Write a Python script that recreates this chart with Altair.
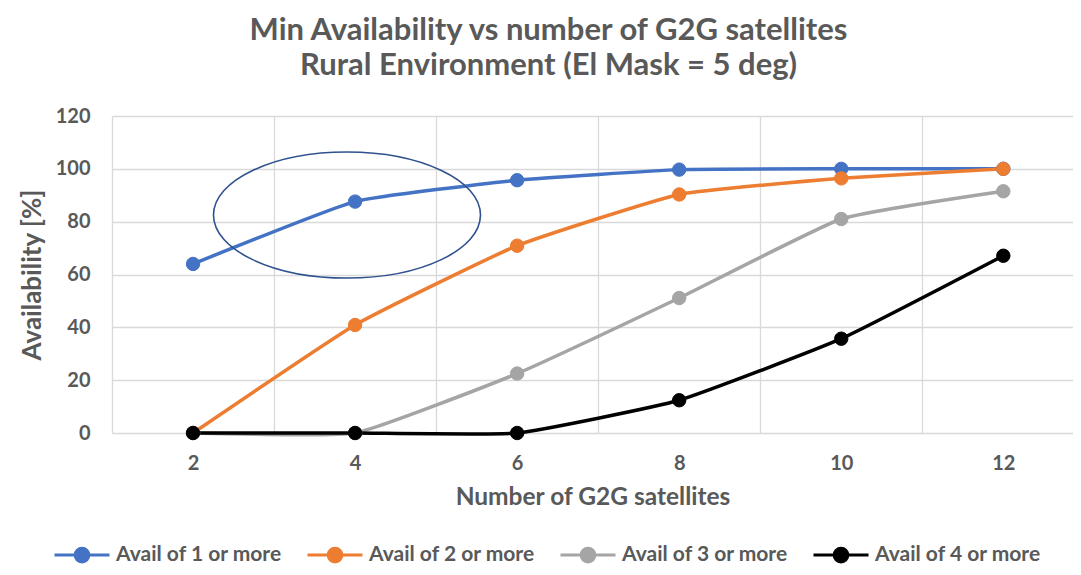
import altair as alt
import pandas as pd

satellites = [2, 4, 6, 8, 10, 12]
series_names = ["Avail of 1 or more", "Avail of 2 or more", "Avail of 3 or more", "Avail of 4 or more"]
avail_1 = [64.0, 87.6, 95.7, 99.7, 100.0, 100.0]
avail_2 = [0.0, 40.9, 70.9, 90.3, 96.4, 100.0]
avail_3 = [0.0, 0.0, 22.5, 51.1, 81.0, 91.5]
avail_4 = [0.0, 0.0, 0.0, 12.4, 35.7, 67.1]
colors = ["#4472C4", "#ED7D31", "#A5A5A5", "#000000"]

# annotation ellipse (center in data coordinates)
ellipse_x = [3.9]
ellipse_y = [82.5]

rows = []
for name, vals in zip(series_names, [avail_1, avail_2, avail_3, avail_4]):
    for s, v in zip(satellites, vals):
        rows.append({"sat": s, "avail": v, "series": name})
df = pd.DataFrame(rows)
ell = pd.DataFrame({"x": ellipse_x, "y": ellipse_y})

FONT = "Lato"
GRAY = "#595959"
GRID = "#D9D9D9"

x_scale = alt.Scale(domain=[1, 12.86], nice=False, zero=False)
y_scale = alt.Scale(domain=[0, 120], nice=False)

x_axis = alt.Axis(
    values=list(range(1, 13)),
    format="d",
    labelExpr="datum.value % 2 == 0 ? datum.label : ''",
    gridOpacity={"condition": {"test": "datum.value % 2 == 0", "value": 0}, "value": 1},
    title="Number of G2G satellites",
    grid=True, ticks=False, domain=False,
    labelPadding=20, titlePadding=12, titleFontSize=24.5,
)
y_axis = alt.Axis(
    values=[0, 20, 40, 60, 80, 100, 120],
    title="Availability [%]",
    grid=True, ticks=False, domain=False,
    labelPadding=22, titlePadding=10, titleFontSize=26,
)

legend_symbol = "M-1,0L1,0M0.25,0A0.25,0.25,0,1,1,-0.25,0A0.25,0.25,0,1,1,0.25,0Z"
legend = alt.Legend(
    orient="none", legendX=-59, legendY=410, direction="horizontal", columns=4,
    title=None, symbolType=legend_symbol, symbolSize=3025, symbolStrokeWidth=3,
    labelFont=FONT, labelFontSize=21, labelFontWeight="bold", labelColor=GRAY,
    labelOffset=5, columnPadding=19, labelLimit=400,
)
color_scale = alt.Scale(domain=series_names, range=colors)

lines = alt.Chart(df).mark_line(strokeWidth=3.5, interpolate="cardinal", tension=0.6).encode(
    x=alt.X("sat:Q", scale=x_scale, axis=x_axis),
    y=alt.Y("avail:Q", scale=y_scale, axis=y_axis),
    stroke=alt.Stroke("series:N", scale=color_scale, legend=legend, sort=series_names),
)

points = alt.Chart(df).mark_point(filled=True, size=180, opacity=1, strokeWidth=1).encode(
    x=alt.X("sat:Q", scale=x_scale),
    y=alt.Y("avail:Q", scale=y_scale),
    fill=alt.Fill("series:N", scale=color_scale, legend=legend, sort=series_names),
    stroke=alt.Stroke("series:N", scale=color_scale, legend=legend, sort=series_names),
)

ellipse = alt.Chart(ell).mark_point(
    shape="M1,0A1,0.472,0,1,1,-1,0A1,0.472,0,1,1,1,0Z",
    size=71289, filled=False, color="#2F528F", strokeWidth=1.6, opacity=1,
).encode(
    x=alt.X("x:Q", scale=x_scale),
    y=alt.Y("y:Q", scale=y_scale),
)

chart = alt.layer(lines, points, ellipse).properties(
    width=961, height=317,
    autosize=alt.AutoSizeParams(type="none"),
    padding={"left": 104, "top": 108, "right": 0, "bottom": 134},
    title=alt.TitleParams(
        text=["Min Availability vs number of G2G satellites", "Rural Environment (El Mask = 5 deg)"],
        font=FONT, fontSize=31, fontWeight="bold", color=GRAY, lineHeight=35,
        anchor="middle", dx=-44, offset=24,
    ),
).configure_view(stroke=None).configure_axis(
    gridColor=GRID, gridWidth=1.3,
    labelFont=FONT, labelFontSize=20, labelFontWeight="bold", labelColor=GRAY,
    titleFont=FONT, titleFontWeight="bold", titleColor=GRAY,
)

chart.save("out.html", embed_options={"renderer": "svg", "actions": False})
